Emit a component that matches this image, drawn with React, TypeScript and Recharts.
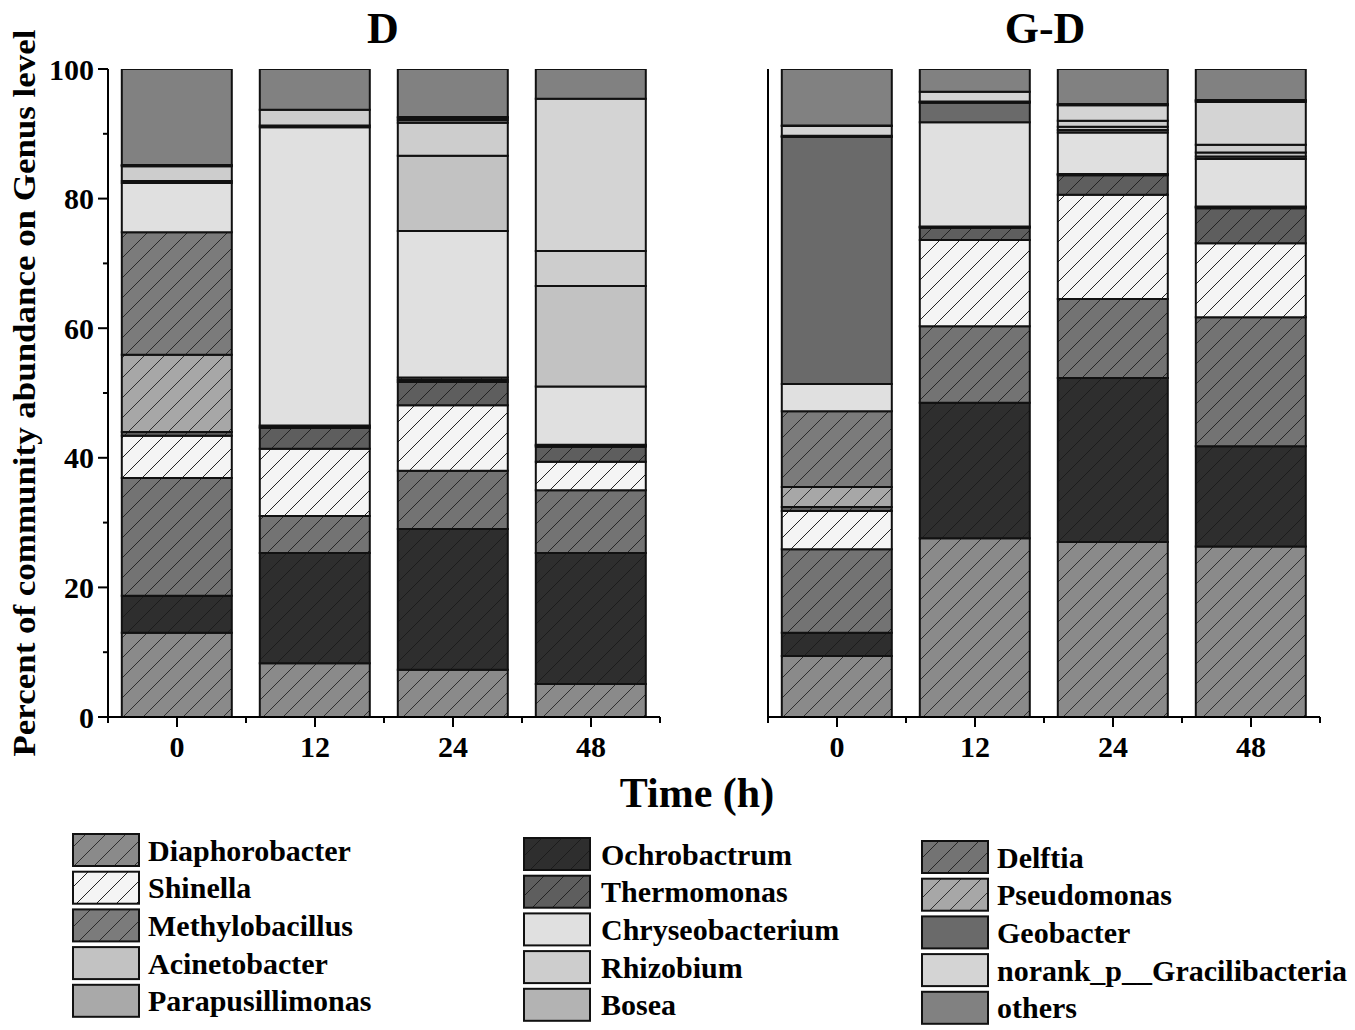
import { Bar, BarChart, XAxis, YAxis } from 'recharts';

const times = ['0', '12', '24', '48'];
const yTicks = [0, 10, 20, 30, 40, 50, 60, 70, 80, 90, 100];
const genera = [
  'Diaphorobacter',
  'Ochrobactrum',
  'Delftia',
  'Shinella',
  'Thermomonas',
  'Pseudomonas',
  'Methylobacillus',
  'Chryseobacterium',
  'Geobacter',
  'Acinetobacter',
  'Rhizobium',
  'norank_p__Gracilibacteria',
  'Parapusillimonas',
  'Bosea',
  'others',
];

// panel D, values at 0 / 12 / 24 / 48 h (%)
const diaphorobacterD = [13.0, 8.3, 7.3, 5.1];
const ochrobactrumD = [5.7, 17.0, 21.7, 20.2];
const delftiaD = [18.2, 5.7, 9.0, 9.7];
const shinellaD = [6.5, 10.4, 10.1, 4.4];
const thermomonasD = [0.6, 3.2, 3.6, 2.3];
const pseudomonasD = [11.9, 0.2, 0.3, 0.2];
const methylobacillusD = [18.9, 0.2, 0.4, 0.1];
const chryseobacteriumD = [7.6, 46.0, 22.6, 9.0];
const geobacterD = [0.3, 0.3, 0.0, 0.0];
const acinetobacterD = [0.0, 0.0, 11.6, 15.5];
const rhizobiumD = [2.3, 2.4, 5.1, 5.4];
const norankD = [0.0, 0.0, 0.4, 23.5];
const parapusillimonasD = [0.1, 0.0, 0.3, 0.0];
const boseaD = [0.1, 0.0, 0.2, 0.0];
const othersD = [14.8, 6.3, 7.4, 4.6];

// panel G-D
const diaphorobacterGD = [9.4, 27.6, 27.0, 26.3];
const ochrobactrumGD = [3.6, 20.9, 25.3, 15.5];
const delftiaGD = [12.9, 11.8, 12.2, 19.9];
const shinellaGD = [5.9, 13.3, 16.1, 11.4];
const thermomonasGD = [0.6, 1.9, 3.0, 5.4];
const pseudomonasGD = [3.1, 0.1, 0.1, 0.2];
const methylobacillusGD = [11.7, 0.1, 0.1, 0.1];
const chryseobacteriumGD = [4.2, 16.1, 6.4, 7.3];
const geobacterGD = [38.1, 3.0, 0.4, 0.4];
const acinetobacterGD = [0.1, 0.1, 0.5, 0.6];
const rhizobiumGD = [0.1, 0.1, 0.9, 1.2];
const norankGD = [1.5, 1.5, 2.4, 6.6];
const parapusillimonasGD = [0.1, 0.0, 0.1, 0.2];
const boseaGD = [0.0, 0.0, 0.1, 0.1];
const othersGD = [8.7, 3.5, 5.4, 4.8];

const seriesD = [
  diaphorobacterD, ochrobactrumD, delftiaD, shinellaD, thermomonasD, pseudomonasD, methylobacillusD,
  chryseobacteriumD, geobacterD, acinetobacterD, rhizobiumD, norankD, parapusillimonasD, boseaD, othersD,
];
const seriesGD = [
  diaphorobacterGD, ochrobactrumGD, delftiaGD, shinellaGD, thermomonasGD, pseudomonasGD, methylobacillusGD,
  chryseobacteriumGD, geobacterGD, acinetobacterGD, rhizobiumGD, norankGD, parapusillimonasGD, boseaGD, othersGD,
];

// fill style per genus (same order as genera)
const fills = [
  { color: '#8a8a8a', hatch: '#2e2e2e' },
  { color: '#2e2e2e', hatch: '#1c1c1c' },
  { color: '#737373', hatch: '#262626' },
  { color: '#f4f4f4', hatch: '#222222' },
  { color: '#5e5e5e', hatch: '#222222' },
  { color: '#a7a7a7', hatch: '#2e2e2e' },
  { color: '#7b7b7b', hatch: '#2a2a2a' },
  { color: '#e0e0e0' },
  { color: '#6a6a6a' },
  { color: '#c2c2c2' },
  { color: '#cdcdcd' },
  { color: '#d4d4d4' },
  { color: '#a9a9a9' },
  { color: '#b3b3b3' },
  { color: '#818181' },
];

const FONT = '"Liberation Serif", "Times New Roman", serif';
const PLOT_W = 552;
const BAND = PLOT_W / times.length;

function buildRows(series: number[][]) {
  return times.map((t, i) => {
    const row: Record<string, string | number> = { time: t };
    genera.forEach((g, k) => {
      row[g] = series[k][i];
    });
    return row;
  });
}

const rowsD = buildRows(seriesD);
const rowsGD = buildRows(seriesGD);

const fillFor = (k: number) => (fills[k].hatch ? `url(#hatch-${k})` : fills[k].color);

function Patterns() {
  return (
    <svg width={0} height={0} style={{ position: 'absolute' }}>
      <defs>
        {fills.map((f, k) =>
          f.hatch ? (
            <pattern key={k} id={`hatch-${k}`} patternUnits="userSpaceOnUse" width={20} height={20}>
              <rect width={20} height={20} fill={f.color} />
              <path d="M0,20 L20,0 M-5,5 L5,-5 M15,25 L25,15" stroke={f.hatch} strokeWidth={1} />
            </pattern>
          ) : null,
        )}
      </defs>
    </svg>
  );
}

function YTick(props: any) {
  const { x, y, payload } = props;
  const major = payload.value % 20 === 0;
  return (
    <g>
      <line x1={x - (major ? 10 : 5)} x2={x} y1={y} y2={y} stroke="#000" strokeWidth={2} />
      {major && (
        <text x={x - 14} y={y} dy="0.35em" textAnchor="end" fontFamily={FONT} fontWeight="bold" fontSize={30} fill="#000">
          {payload.value}
        </text>
      )}
    </g>
  );
}

function XTick(props: any) {
  const { x, y, payload, index } = props;
  return (
    <g>
      <line x1={x} x2={x} y1={y} y2={y + 10} stroke="#000" strokeWidth={2} />
      <line x1={x - BAND / 2} x2={x - BAND / 2} y1={y} y2={y + 6} stroke="#000" strokeWidth={2} />
      {index === times.length - 1 && (
        <line x1={x + BAND / 2} x2={x + BAND / 2} y1={y} y2={y + 6} stroke="#000" strokeWidth={2} />
      )}
      <text x={x} y={y + 40} textAnchor="middle" fontFamily={FONT} fontWeight="bold" fontSize={30} fill="#000">
        {payload.value}
      </text>
    </g>
  );
}

const axisLine = { stroke: '#000', strokeWidth: 2 };

function Panel({ data, showY, left }: { data: Record<string, string | number>[]; showY: boolean; left: number }) {
  return (
    <div style={{ position: 'absolute', left, top: 0 }}>
      <BarChart
        width={showY ? 680 : 640}
        height={780}
        data={data}
        margin={{ top: 69, right: 20, bottom: 13, left: showY ? 48 : 8 }}
        barCategoryGap="10%"
      >
        <XAxis
          dataKey="time"
          height={50}
          interval={0}
          tickSize={0}
          tickMargin={0}
          tickLine={false}
          axisLine={axisLine}
          tick={(p: any) => <XTick {...p} />}
        />
        <XAxis xAxisId="top" orientation="top" dataKey="time" height={0} tick={false} tickLine={false} axisLine={axisLine} />
        <YAxis
          type="number"
          domain={[0, 100]}
          allowDataOverflow
          ticks={yTicks}
          interval={0}
          width={60}
          tickSize={0}
          tickMargin={0}
          tickLine={false}
          axisLine={axisLine}
          tick={showY ? (p: any) => <YTick {...p} /> : false}
        />
        <YAxis
          yAxisId="right"
          orientation="right"
          type="number"
          domain={[0, 100]}
          width={0}
          tick={false}
          tickLine={false}
          axisLine={axisLine}
        />
        {genera.map((g, k) => (
          <Bar
            key={g}
            dataKey={g}
            stackId="s"
            fill={fillFor(k)}
            stroke="#111"
            strokeWidth={2}
            isAnimationActive={false}
          />
        ))}
      </BarChart>
    </div>
  );
}

function Legend() {
  const cols = [
    { sx: 73, tx: 148, y0: 834 },
    { sx: 524, tx: 601, y0: 838 },
    { sx: 922, tx: 997, y0: 841 },
  ];
  return (
    <svg width={1355} height={1030} style={{ position: 'absolute', left: 0, top: 0, pointerEvents: 'none' }}>
      {genera.map((g, k) => {
        const c = cols[k % 3];
        const r = Math.floor(k / 3);
        const y = c.y0 + r * 37.7;
        return (
          <g key={g}>
            <rect x={c.sx} y={y} width={66} height={32} fill={fillFor(k)} stroke="#111" strokeWidth={2} />
            <text x={c.tx} y={y + 16} dy="0.35em" fontFamily={FONT} fontWeight="bold" fontSize={30} fill="#000">
              {g}
            </text>
          </g>
        );
      })}
      <text x={383} y={43} textAnchor="middle" fontFamily={FONT} fontWeight="bold" fontSize={44} fill="#000">D</text>
      <text x={1045} y={43} textAnchor="middle" fontFamily={FONT} fontWeight="bold" fontSize={44} fill="#000">G-D</text>
      <text x={697} y={807} textAnchor="middle" fontFamily={FONT} fontWeight="bold" fontSize={42} fill="#000">Time (h)</text>
      <text
        x={0}
        y={0}
        transform="translate(24 393) rotate(-90)"
        textAnchor="middle"
        dy="0.35em"
        textLength={727}
        lengthAdjust="spacingAndGlyphs"
        fontFamily={FONT}
        fontWeight="bold"
        fontSize={31}
        fill="#000"
      >
        Percent of community abundance on Genus level
      </text>
    </svg>
  );
}

export default function App() {
  return (
    <div style={{ position: 'absolute', left: 0, top: 0, width: 1355, height: 1030, background: '#fff' }}>
      <Patterns />
      <Panel data={rowsD} showY left={0} />
      <Panel data={rowsGD} showY={false} left={700} />
      <Legend />
    </div>
  );
}
